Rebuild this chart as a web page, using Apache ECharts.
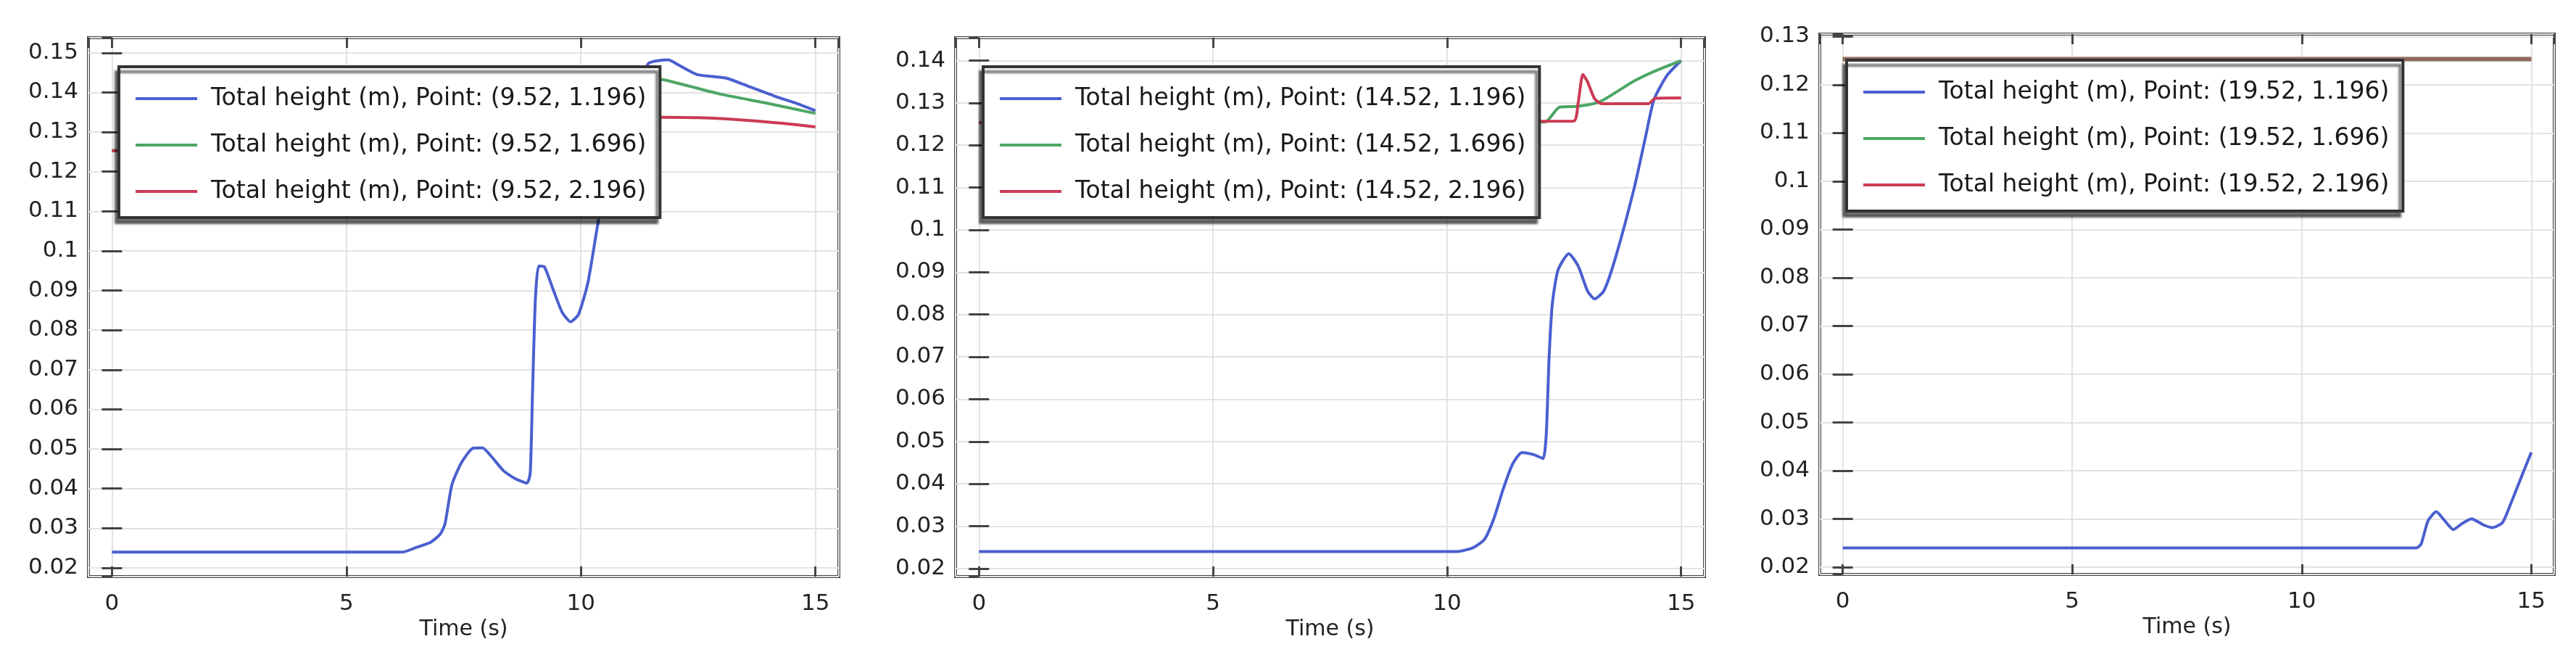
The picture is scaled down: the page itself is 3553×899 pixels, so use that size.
<!DOCTYPE html>
<html>
<head>
<meta charset="utf-8">
<title>Total height</title>
<script src="https://cdn.jsdelivr.net/npm/echarts@6/dist/echarts.min.js"></script>
<style>
    html, body { margin: 0; padding: 0; background: #fff; }
    #main { width: 3553px; height: 899px; }
</style>
</head>
<body>
<div id="main"></div>
<script>
// probe points, one panel per x position
var pointX = ['9.52', '14.52', '19.52'];
var pointY = ['1.196', '1.696', '2.196'];

// axis ranges
var timeRange = [-0.5, 15.5];
var yMins = [0.0178, 0.0181, 0.0185];
var yMaxs = [0.1538, 0.1454, 0.1305];

// panel 1 (x = 9.52)
var p1BlueT = [0, 6.2, 6.5, 6.8, 7.0, 7.1, 7.25, 7.45, 7.7, 7.9, 8.1, 8.35, 8.6, 8.85, 8.92, 8.97, 9.03, 9.1, 9.22, 9.4, 9.6, 9.78, 9.95, 10.15, 10.35, 10.55, 10.8, 11.1, 11.44, 11.86, 12.1, 12.48, 13.1, 13.6, 14.1, 14.6, 15.0];
var p1BlueH = [0.024, 0.024, 0.0252, 0.0265, 0.0285, 0.031, 0.041, 0.0465, 0.0502, 0.0503, 0.048, 0.0445, 0.0425, 0.0414, 0.044, 0.065, 0.088, 0.0962, 0.096, 0.0905, 0.0845, 0.0821, 0.084, 0.092, 0.106, 0.118, 0.128, 0.138, 0.1473, 0.1482, 0.1468, 0.1445, 0.1436, 0.1414, 0.1392, 0.1372, 0.1354];
var p1GreenT = [0, 9.6, 10.2, 10.8, 11.3, 11.76, 12.3, 13.0, 14.0, 15.0];
var p1GreenH = [0.1253, 0.1253, 0.131, 0.139, 0.1435, 0.1432, 0.1416, 0.1395, 0.1372, 0.1347];
var p1RedT = [0, 9.8, 10.4, 11.0, 11.76, 12.5, 13.5, 14.3, 15.0];
var p1RedH = [0.1253, 0.1253, 0.129, 0.1335, 0.1337, 0.1336, 0.1330, 0.1322, 0.1313];

// panel 2 (x = 14.52)
var p2BlueT = [0, 10.2, 10.55, 10.8, 11.0, 11.2, 11.4, 11.6, 11.85, 12.05, 12.12, 12.18, 12.25, 12.37, 12.6, 12.8, 13.0, 13.15, 13.35, 13.6, 14.0, 14.25, 14.42, 14.7, 15.0];
var p2BlueH = [0.024, 0.024, 0.0249, 0.0269, 0.0318, 0.0388, 0.0447, 0.0474, 0.0469, 0.046, 0.052, 0.07, 0.0827, 0.0905, 0.0944, 0.0915, 0.0856, 0.0837, 0.0856, 0.0935, 0.110, 0.1225, 0.1308, 0.1365, 0.1400];
var p2GreenT = [0, 12.1, 12.2, 12.4, 12.8, 13.27, 14.0, 14.5, 15.0];
var p2GreenH = [0.1253, 0.1255, 0.1265, 0.129, 0.1292, 0.1303, 0.1352, 0.1378, 0.1400];
var p2RedT = [0, 12.7, 12.8, 12.9, 13.0, 13.15, 13.3, 14.3, 14.45, 15.0];
var p2RedH = [0.1253, 0.1257, 0.1300, 0.1367, 0.1350, 0.1310, 0.1298, 0.1298, 0.1311, 0.1312];

// panel 3 (x = 19.52)
var p3BlueT = [0, 12.5, 12.6, 12.75, 12.93, 13.1, 13.3, 13.5, 13.7, 13.95, 14.15, 14.37, 14.55, 14.8, 15.0];
var p3BlueH = [0.024, 0.024, 0.0248, 0.0296, 0.0315, 0.0298, 0.0278, 0.0291, 0.030, 0.0288, 0.0282, 0.0292, 0.0331, 0.0391, 0.0438];
var p3GreenT = [0, 15];
var p3GreenH = [0.1253, 0.1253];
var p3RedT = [0, 15];
var p3RedH = [0.1253, 0.1253];

var colors = ['#4a5fcf', '#4da665', '#cc3a55'];
var font = 'DejaVu Sans';

function pairs(t, h) {
    var arr = [];
    for (var i = 0; i < t.length; i++) {
        arr.push([t[i], h[i]]);
    }
    return arr;
}

var panels = [
    [pairs(p1BlueT, p1BlueH), pairs(p1GreenT, p1GreenH), pairs(p1RedT, p1RedH)],
    [pairs(p2BlueT, p2BlueH), pairs(p2GreenT, p2GreenH), pairs(p2RedT, p2RedH)],
    [pairs(p3BlueT, p3BlueH), pairs(p3GreenT, p3GreenH), pairs(p3RedT, p3RedH)]
];

var grids = [
    {left: 122, top: 52, width: 1035, height: 743},
    {left: 1318, top: 52, width: 1033, height: 743},
    {left: 2510, top: 47, width: 1013, height: 745}
];
var legendPos = [
    {left: 164, top: 92},
    {left: 1356, top: 92},
    {left: 2547, top: 83}
];

var option = {
    animation: false,
    backgroundColor: '#fff',
    grid: [],
    xAxis: [],
    yAxis: [],
    legend: [],
    series: []
};

var frameColor = '#444';
var tickLen = 14;

for (var p = 0; p < 3; p++) {
    option.grid.push({
        left: grids[p].left, top: grids[p].top,
        width: grids[p].width, height: grids[p].height,
        show: true, backgroundColor: '#fff',
        borderColor: frameColor, borderWidth: 4
    });
    //bottom + top time axes
    option.xAxis.push({
        type: 'value', gridIndex: p, position: 'bottom',
        min: timeRange[0], max: timeRange[1], minInterval: 5, maxInterval: 5,
        name: 'Time (s)', nameLocation: 'middle', nameGap: 56,
        nameTextStyle: {fontFamily: font, fontSize: 30, color: '#222'},
        axisLine: {show: false},
        axisTick: {inside: true, length: tickLen, lineStyle: {color: frameColor, width: 3}},
        axisLabel: {showMinLabel: false, showMaxLabel: false, margin: 22, fontFamily: font, fontSize: 31, color: '#222'},
        splitLine: {show: true, lineStyle: {color: '#e3e3e3', width: 2}}
    });
    option.xAxis.push({
        type: 'value', gridIndex: p, position: 'top',
        min: timeRange[0], max: timeRange[1], minInterval: 5, maxInterval: 5,
        axisLine: {show: false},
        axisTick: {inside: true, length: tickLen, lineStyle: {color: frameColor, width: 3}},
        axisLabel: {show: false},
        splitLine: {show: false}
    });
    //left + right height axes
    option.yAxis.push({
        type: 'value', gridIndex: p, position: 'left',
        min: yMins[p], max: yMaxs[p], minInterval: 0.01, maxInterval: 0.01,
        axisLine: {show: false},
        axisTick: {inside: true, length: tickLen, lineStyle: {color: frameColor, width: 3}},
        axisLabel: {showMinLabel: false, showMaxLabel: false, margin: 14, fontFamily: font, fontSize: 31, color: '#222'},
        splitLine: {show: true, lineStyle: {color: '#e3e3e3', width: 2}}
    });
    option.yAxis.push({
        type: 'value', gridIndex: p, position: 'right',
        min: yMins[p], max: yMaxs[p], minInterval: 0.01, maxInterval: 0.01,
        axisLine: {show: false},
        axisTick: {inside: true, length: tickLen, lineStyle: {color: frameColor, width: 3}},
        axisLabel: {show: false},
        splitLine: {show: false}
    });

    var names = [];
    for (var s = 0; s < 3; s++) {
        var name = 'Total height (m), Point: (' + pointX[p] + ', ' + pointY[s] + ')';
        names.push(name);
        option.series.push({
            name: name,
            type: 'line',
            xAxisIndex: p * 2,
            yAxisIndex: p * 2,
            data: panels[p][s],
            symbol: 'none',
            smooth: 0.2,
            color: colors[s],
            lineStyle: {
                color: colors[s],
                width: p == 2 && s > 0 ? 6 : 4,
                // green and red lie on top of each other in the last panel
                opacity: p == 2 && s == 2 ? 0.55 : 1
            }
        });
    }
    option.legend.push({
        orient: 'vertical',
        left: legendPos[p].left,
        top: legendPos[p].top,
        data: names,
        icon: 'rect',
        backgroundColor: '#fff',
        borderColor: '#333',
        borderWidth: 4,
        borderRadius: 0,
        shadowColor: 'rgba(0,0,0,0.55)',
        shadowBlur: 3,
        shadowOffsetX: -4,
        shadowOffsetY: 7,
        padding: [27, 19, 19, 23],
        itemGap: 30,
        itemWidth: 85,
        itemHeight: 4,
        selectedMode: false,
        textStyle: {fontFamily: font, fontSize: 33, color: '#1a1a1a', lineHeight: 34, padding: [0, 0, 0, 14]}
    });
}

var myChart = echarts.init(document.getElementById('main'));
myChart.setOption(option);
</script>
</body>
</html>
